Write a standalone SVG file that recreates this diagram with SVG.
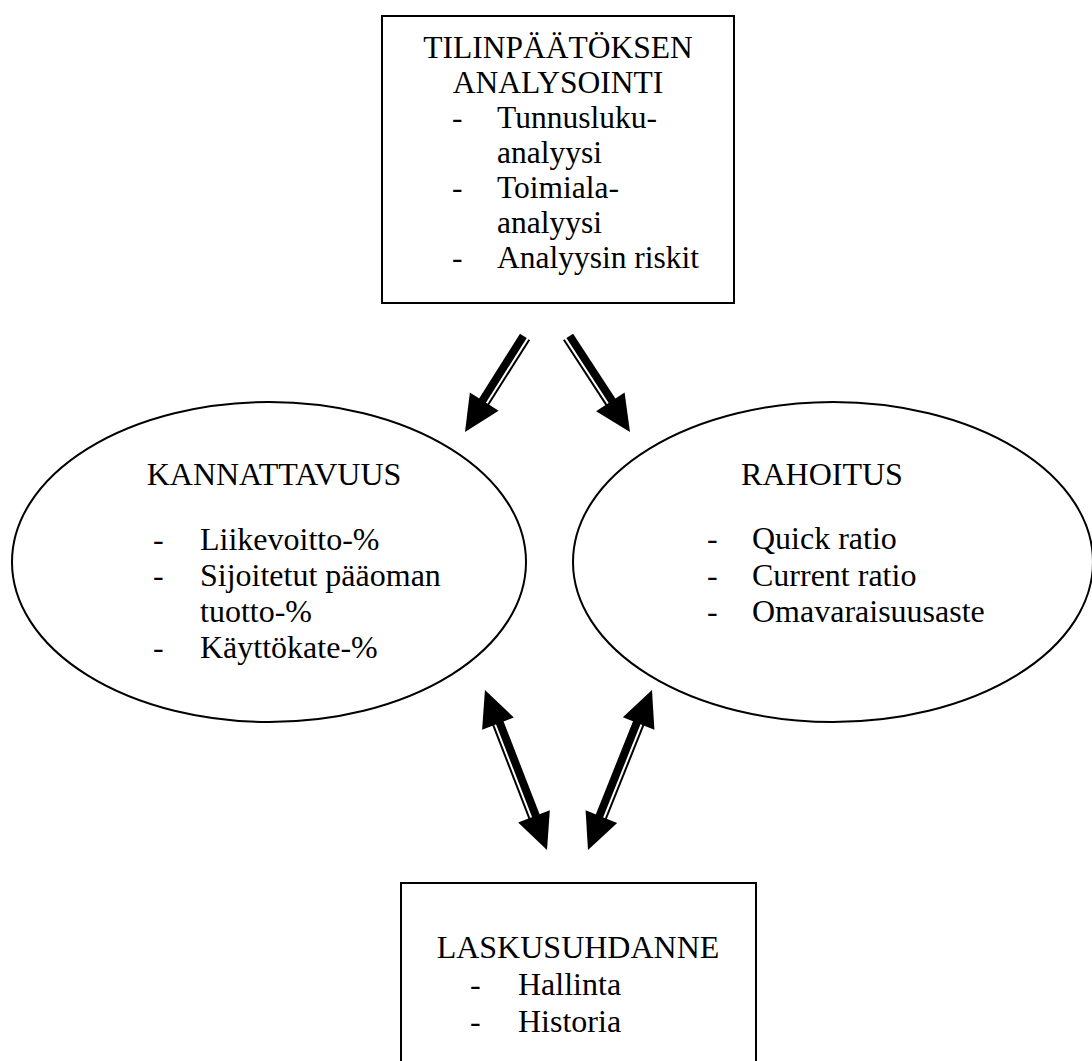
<svg xmlns="http://www.w3.org/2000/svg" width="1092" height="1061" viewBox="0 0 1092 1061">
<defs>
<style>
.shape{fill:#fff;stroke:#000;stroke-width:2}
text{font-family:'Liberation Serif','Times New Roman',Times,Tinos,'Nimbus Roman','FreeSerif','DejaVu Serif',serif;fill:#000}
.t{font-size:32px}
.tt{font-size:31.5px}
.c{text-anchor:middle}
.ar{fill:#000;stroke:none}
</style>
</defs>
<rect width="1092" height="1061" fill="#fff"/>
<g id="connectors">
<g transform="translate(465,432) rotate(122.3)">
<rect class="ar" x="-112.4" y="-6" width="80" height="2"/>
<rect class="ar" x="-112.4" y="-2" width="80" height="8"/>
<polygon class="ar" points="0,0 -36,-17 -36,17"/>
</g>
<g transform="translate(630,432) rotate(56.9)">
<rect class="ar" x="-113.4" y="4" width="81" height="2"/>
<rect class="ar" x="-113.4" y="-6" width="81" height="8"/>
<polygon class="ar" points="0,0 -36,-17 -36,17"/>
</g>
<g transform="translate(547,850) rotate(68.8)">
<rect class="ar" x="-139" y="4" width="106" height="2"/>
<rect class="ar" x="-139" y="-6" width="106" height="8"/>
<polygon class="ar" points="0,0 -36,-17 -36,17"/>
<polygon class="ar" points="-171.6,0 -135.6,-17 -135.6,17"/>
</g>
<g transform="translate(588,850) rotate(111.8)">
<rect class="ar" x="-139.5" y="-6" width="106.5" height="2"/>
<rect class="ar" x="-139.5" y="-2" width="106.5" height="8"/>
<polygon class="ar" points="0,0 -36,-17 -36,17"/>
<polygon class="ar" points="-172.3,0 -136.3,-17 -136.3,17"/>
</g>
</g>
<g id="node-tilinpaatos">
<rect class="shape" x="382" y="16" width="352" height="287"/>
<text class="tt c" x="558" y="57.5">TILINPÄÄTÖKSEN</text>
<text class="tt c" x="558" y="92.5">ANALYSOINTI</text>
<text class="tt" x="452" y="127.5">-</text>
<text class="tt" x="497" y="127.5">Tunnusluku-</text>
<text class="tt" x="497" y="162.5">analyysi</text>
<text class="tt" x="452" y="197.5">-</text>
<text class="tt" x="497" y="197.5">Toimiala-</text>
<text class="tt" x="497" y="232.5">analyysi</text>
<text class="tt" x="452" y="267.5">-</text>
<text class="tt" x="497" y="267.5">Analyysin riskit</text>
</g>
<g id="node-kannattavuus">
<ellipse class="shape" cx="269" cy="562" rx="257" ry="160"/>
<text class="t c" x="274" y="485">KANNATTAVUUS</text>
<text class="t" x="153" y="550">-</text>
<text class="t" x="200" y="550">Liikevoitto-%</text>
<text class="t" x="153" y="586">-</text>
<text class="t" x="200" y="586">Sijoitetut pääoman</text>
<text class="t" x="200" y="622">tuotto-%</text>
<text class="t" x="153" y="658">-</text>
<text class="t" x="200" y="658">Käyttökate-%</text>
</g>
<g id="node-rahoitus">
<ellipse class="shape" cx="833" cy="562" rx="260" ry="160"/>
<text class="t c" x="822" y="485">RAHOITUS</text>
<text class="t" x="707" y="549">-</text>
<text class="t" x="752" y="549">Quick ratio</text>
<text class="t" x="707" y="586">-</text>
<text class="t" x="752" y="586">Current ratio</text>
<text class="t" x="707" y="622">-</text>
<text class="t" x="752" y="622">Omavaraisuusaste</text>
</g>
<g id="node-laskusuhdanne">
<rect class="shape" x="401" y="883" width="355" height="200"/>
<text class="t c" x="578" y="958">LASKUSUHDANNE</text>
<text class="t" x="470" y="995">-</text>
<text class="t" x="518" y="995">Hallinta</text>
<text class="t" x="470" y="1032">-</text>
<text class="t" x="518" y="1032">Historia</text>
</g>
</svg>
